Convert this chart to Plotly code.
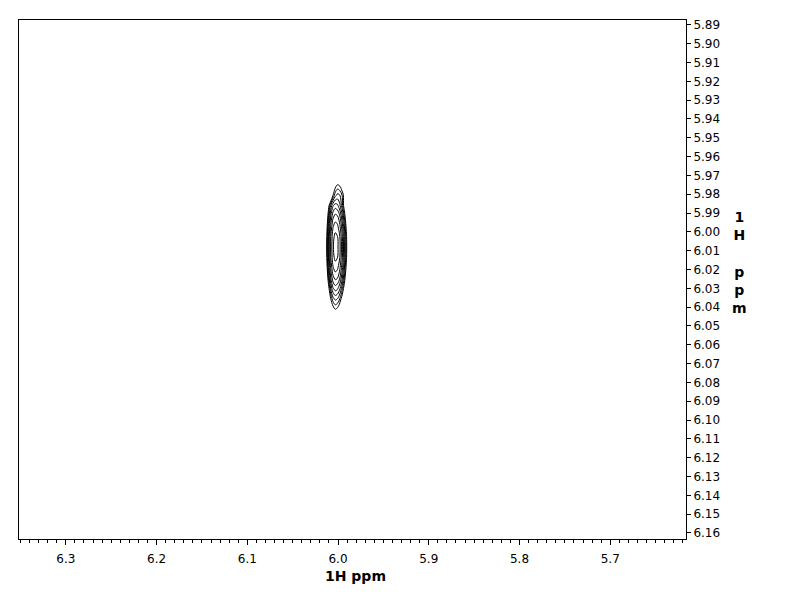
import plotly.graph_objects as go

# Axis ranges (ppm)
x_range = [6.3516, 5.6165]
y_range = [6.1632, 5.8874]

# Contour grid (ppm) and estimated intensity surface (log-scaled units)
grid_x = [6.0155, 6.013, 6.0105, 6.008, 6.0055, 6.003, 6.0005, 5.998, 5.9955, 5.993, 5.9905, 5.988]
grid_y = [5.9695, 5.975, 5.9805, 5.986, 5.9915, 5.997, 6.0025, 6.008, 6.0135, 6.019,
          6.0245, 6.030, 6.0355, 6.041, 6.0465]
intensity = [
    [-3, -3, -3, -3, -3, -3, -3, -3, -3, -3, -3, -3],
    [-3, -3, -3, -3, -2.0, -0.2, 0.6, 0.2, -1.0, -3, -3, -3],
    [-3, -3, -3, -2.5, 0.5, 2.2, 2.8, 2.5, 1.5, -0.3, -2.7, -3],
    [-3, -3, -0.2, 2.7, 4.4, 5.0, 4.7, 3.7, 2.0, -0.4, -3, -3],
    [-3, -2.5, 1.6, 4.5, 6.2, 6.8, 6.5, 5.5, 3.8, 1.4, -1.7, -3],
    [-3, -1.2, 2.8, 5.7, 7.4, 8.0, 7.7, 6.7, 5.0, 2.6, -0.4, -3],
    [-3, -0.5, 3.6, 6.5, 8.2, 8.8, 8.5, 7.5, 5.8, 3.4, 0.4, -3],
    [-3, -0.2, 3.8, 6.7, 8.4, 9.0, 8.7, 7.7, 6.0, 3.6, 0.6, -3],
    [-3, -0.5, 3.6, 6.5, 8.2, 8.8, 8.5, 7.5, 5.8, 3.4, 0.4, -3],
    [-3, -1.2, 2.8, 5.7, 7.4, 8.0, 7.7, 6.7, 5.0, 2.6, -0.4, -3],
    [-3, -2.5, 1.6, 4.5, 6.2, 6.8, 6.5, 5.5, 3.8, 1.4, -1.7, -3],
    [-3, -3, -0.2, 2.7, 4.4, 5.0, 4.7, 3.7, 2.0, -0.4, -3, -3],
    [-3, -3, -2.5, 0.5, 2.2, 2.8, 2.5, 1.5, -0.3, -2.7, -3, -3],
    [-3, -3, -3, -2.0, -0.2, 0.6, 0.2, -1.0, -3, -3, -3, -3],
    [-3, -3, -3, -3, -3, -3, -3, -3, -3, -3, -3, -3],
]
contour_start = 0.5
contour_end = 8.5
contour_step = 1.0

FONT = "DejaVu Sans, Arial, sans-serif"

fig = go.Figure()
fig.add_trace(go.Contour(
    x=grid_x, y=grid_y, z=intensity,
    contours=dict(start=contour_start, end=contour_end, size=contour_step, coloring="lines"),
    colorscale=[[0, "black"], [1, "black"]],
    showscale=False,
    line=dict(width=1, smoothing=1.0),
    hoverinfo="skip",
))

fig.update_layout(
    width=784, height=604,
    margin=dict(l=10, r=106, t=10, b=73),
    paper_bgcolor="white", plot_bgcolor="white",
    showlegend=False,
    font=dict(family=FONT, size=12, color="black"),
    xaxis=dict(
        range=x_range, autorange=False,
        showline=True, linecolor="black", linewidth=1, mirror=True,
        showgrid=False, zeroline=False,
        ticks="outside", ticklen=5, tickcolor="black", tickwidth=1,
        tick0=6.0, dtick=0.1, tickformat=".1f", ticklabelstandoff=4,
        minor=dict(ticks="outside", ticklen=3, tickcolor="black", dtick=0.01, tick0=6.0, showgrid=False),
        tickfont=dict(family=FONT, size=12, color="black"),
    ),
    yaxis=dict(
        range=y_range, autorange=False, side="right",
        showline=True, linecolor="black", linewidth=1, mirror=True,
        showgrid=False, zeroline=False,
        ticks="outside", ticklen=4, tickcolor="black", tickwidth=1,
        tick0=5.89, dtick=0.01, tickformat=".2f",
        tickfont=dict(family=FONT, size=12, color="black"),
    ),
    annotations=[
        dict(text="<b>1H ppm</b>", xref="paper", yref="paper", x=0.505, y=-0.072,
             xanchor="center", yanchor="middle", showarrow=False,
             font=dict(family=FONT, size=14, color="black")),
        dict(text="<b>1<br>H<br> <br>p<br>p<br>m</b>", xref="paper", yref="paper",
             x=1.08, y=0.64, xanchor="center", yanchor="top", showarrow=False,
             align="center", font=dict(family=FONT, size=14, color="black")),
    ],
)

fig.write_html("out.html")
